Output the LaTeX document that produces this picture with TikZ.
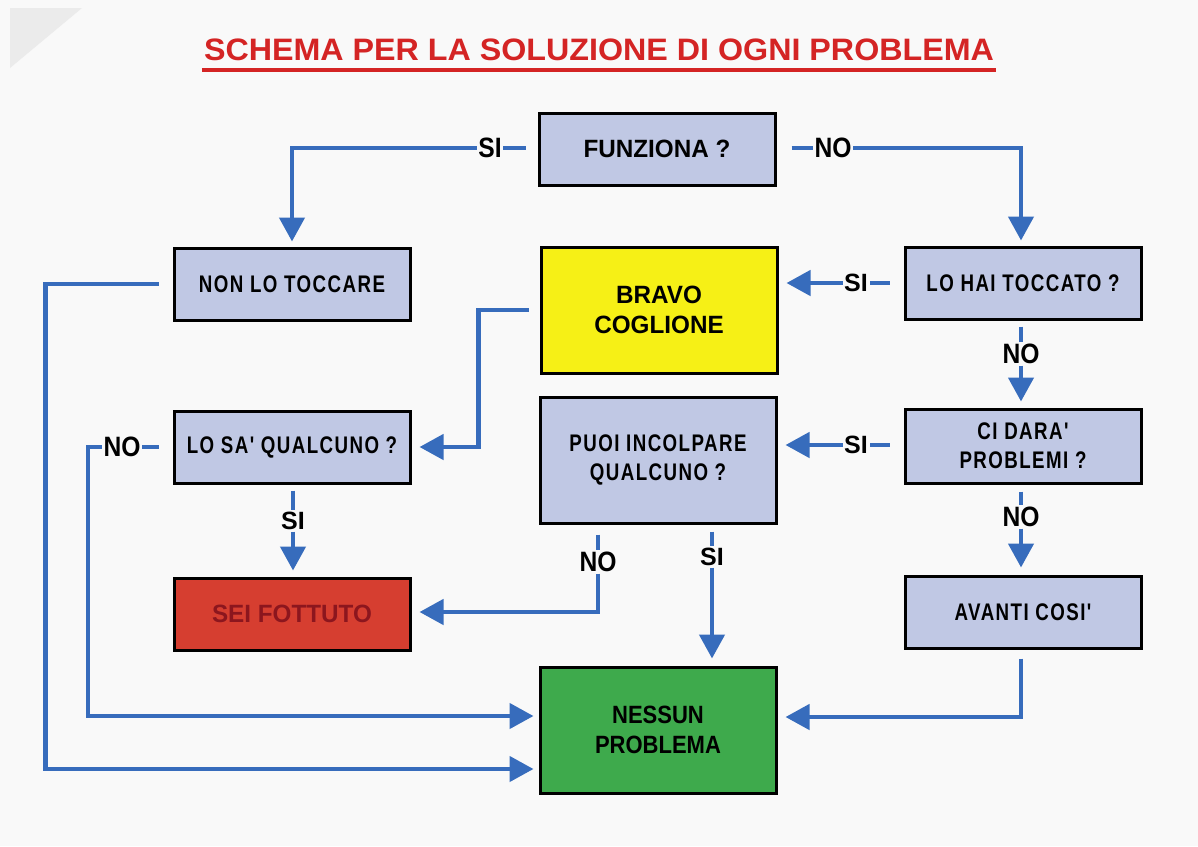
\documentclass[tikz,border=0pt]{standalone}
\usepackage{fontspec}
\setmainfont{Liberation Sans}
\newfontfamily\fB[FakeStretch=0.78,LetterSpace=6]{Liberation Sans}
\newfontfamily\fA[FakeStretch=0.97]{Liberation Sans}
\newfontfamily\fN[FakeStretch=0.88]{Liberation Sans}
\newfontfamily\fT[FakeStretch=1.04]{Liberation Sans}
\usetikzlibrary{arrows.meta}
\definecolor{boxblue}{RGB}{192,200,228}
\definecolor{lblue}{RGB}{55,108,188}
\definecolor{byellow}{RGB}{246,240,22}
\definecolor{bred}{RGB}{214,62,48}
\definecolor{bgreen}{RGB}{62,170,76}
\definecolor{tred}{RGB}{212,36,36}
\definecolor{dred}{RGB}{140,22,30}
\definecolor{paper}{RGB}{249,249,249}
\begin{document}
\begin{tikzpicture}[x=1pt,y=-1pt,
  box/.style={draw=black, line width=3pt, fill=boxblue, minimum width=236pt,
    minimum height=72pt, inner sep=0pt, align=center, text=black,
    font=\fB\bfseries\fontsize{24}{29}\selectfont},
  tall/.style={box, minimum height=126pt},
  boxa/.style={font=\fA\bfseries\fontsize{25}{30}\selectfont},
  ln/.style={draw=lblue, line width=4.5pt},
  ar/.style={ln, -{Triangle[length=24pt,width=25pt]}},
  lab/.style={inner sep=1.5pt, text=black, font=\fN\bfseries\fontsize{28}{28}\selectfont},
  labb/.style={inner sep=1.5pt, text=black, font=\bfseries\fontsize{25}{25}\selectfont}]
\useasboundingbox (0,0) rectangle (1198,846);
\fill[paper] (0,0) rectangle (1198,846);
\fill[black!8] (10,8) -- (82,8) -- (10,68) -- cycle;

% title
\node[text=tred, inner sep=0pt, font=\fT\bfseries\fontsize{31}{31}\selectfont] (title) at (599,50) {SCHEMA PER LA SOLUZIONE DI OGNI PROBLEMA};
\draw[tred, line width=3.5pt] ([xshift=-2pt]title.south west |- 0,70) coordinate (ul1) -- ([xshift=2pt]title.south east |- 0,70) coordinate (ul2);

% boxes
\node[box, font=\fA\bfseries\fontsize{25}{30}\selectfont] (fun) at (657,149) {FUNZIONA ?};
\node[box] (non) at (292,284) {NON LO TOCCARE};
\node[tall, boxa, fill=byellow] (bravo) at (659,310) {BRAVO\\COGLIONE};
\node[box] (hai) at (1023,283) {LO HAI TOCCATO ?};
\node[box] (sa) at (292,447) {LO SA' QUALCUNO ?};
\node[tall] (puoi) at (658,460) {PUOI INCOLPARE\\QUALCUNO ?};
\node[box, minimum height=74pt] (dara) at (1023,446) {CI DARA'\\PROBLEMI ?};
\node[box, boxa, fill=bred, text=dred] (sei) at (292,614) {SEI FOTTUTO};
\node[box] (avanti) at (1023,612) {AVANTI COSI'};
\node[tall, fill=bgreen, font=\fN\bfseries\fontsize{25}{30}\selectfont] (nessun) at (658,730) {NESSUN\\PROBLEMA};

% labels
\node[lab] (s1) at (490,148) {SI};
\node[lab] (n1) at (833,148) {NO};
\node[labb] (s2) at (856,283) {SI};
\node[lab] (n2) at (1021,354) {NO};
\node[labb] (s3) at (856,445) {SI};
\node[lab] (n3) at (1021,517) {NO};
\node[lab] (n4) at (122,447) {NO};
\node[labb] (s4) at (293,521) {SI};
\node[lab] (n5) at (598,562) {NO};
\node[labb] (s5) at (712,557) {SI};

% connectors
\draw[ln, shorten <=12pt] (fun.west |- s1) -- (s1.east);
\draw[ar, shorten >=5pt] (s1.west) -| (non.north);
\draw[ln, shorten <=15pt] (fun.east |- n1) -- (n1.west);
\draw[ar, shorten >=5pt] (n1.east) -| ([xshift=-2pt]hai.north);

\draw[ln, shorten <=14pt] (hai.west |- s2) -- (s2.east);
\draw[ar, shorten >=8pt] (s2.west) -- (s2.west -| bravo.east);
\draw[ln, shorten <=6pt] (n2.north |- hai.south) -- (n2.north);
\draw[ar, shorten >=6pt] (n2.south) -- (n2.south |- dara.north);

\draw[ln, shorten <=14pt] (dara.west |- s3) -- (s3.east);
\draw[ar, shorten >=8pt] (s3.west) -- (s3.west -| puoi.east);
\draw[ln, shorten <=7pt] (n3.north |- dara.south) -- (n3.north);
\draw[ar, shorten >=7pt] (n3.south) -- (n3.south |- avanti.north);

\draw[ar, shorten <=9pt, shorten >=8pt] (n3.south |- avanti.south) |- ([yshift=13pt]nessun.east);

\draw[ar, shorten <=14pt, shorten >=5pt] (non.west) -- ++(-127,0) |- ([yshift=-39pt]nessun.west);
\draw[ar, shorten <=11pt, shorten >=8pt] (bravo.west) -- ++(-61,0) |- (sa.east);

\draw[ln, shorten <=14pt] (sa.west |- n4) -- (n4.east);
\draw[ar, shorten >=5pt] (n4.west) -- ++(-14,0) |- ([yshift=14pt]nessun.west);

\draw[ln, shorten <=6pt] (s4.north |- sa.south) -- (s4.north);
\draw[ar, shorten >=6pt] (s4.south) -- (s4.south |- sei.north);

\draw[ln, shorten <=10pt] (n5.north |- puoi.south) -- (n5.north);
\draw[ar, shorten >=8pt] (n5.south) |- ([yshift=2pt]sei.east);

\draw[ln, shorten <=7pt] (s5.north |- puoi.south) -- (s5.north);
\draw[ar, shorten >=7pt] (s5.south) -- (s5.south |- nessun.north);
\end{tikzpicture}
\end{document}
